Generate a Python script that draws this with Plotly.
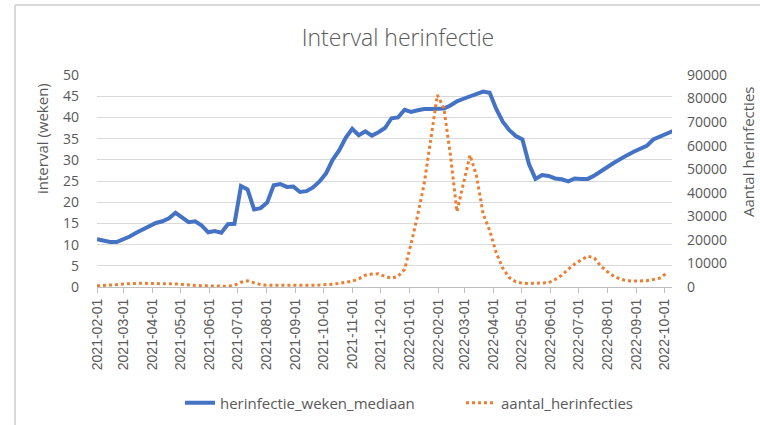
import pandas as pd
import plotly.graph_objects as go

# weekly dates (category values)
dates = pd.date_range("2021-02-01", periods=89, freq="7D")

herinfectie_weken_mediaan = [
    11.3, 10.9, 10.6, 10.6, 11.2, 11.9, 12.8, 13.5, 14.2, 15.1,
    15.5, 16.2, 17.5, 16.4, 15.3, 15.5, 14.5, 12.9, 13.2, 12.8,
    14.8, 14.9, 23.8, 23.0, 18.3, 18.6, 19.9, 24.0, 24.3, 23.6,
    23.7, 22.4, 22.6, 23.5, 24.9, 26.8, 30.0, 32.2, 35.2, 37.3,
    35.8, 36.7, 35.7, 36.5, 37.5, 39.8, 40.0, 41.8, 41.3, 41.7,
    42.0, 42.0, 42.1, 42.1, 42.8, 43.8, 44.4, 45.0, 45.6, 46.1,
    45.8, 42.0, 39.0, 37.0, 35.6, 34.8, 29.0, 25.5, 26.4, 26.2,
    25.6, 25.4, 24.9, 25.6, 25.5, 25.5, 26.3, 27.2, 28.3, 29.3,
    30.3, 31.1, 31.9, 32.7, 33.3, 34.8, 35.5, 36.1, 36.8,
]

aantal_herinfecties = [
    500, 600, 800, 1000, 1300, 1500, 1500, 1600, 1500, 1500,
    1500, 1400, 1300, 1100, 800, 600, 500, 500, 400, 400,
    300, 800, 2000, 2600, 1800, 1000, 700, 600, 700, 800,
    700, 600, 600, 700, 800, 900, 1200, 1500, 2000, 2500,
    3500, 5000, 5500, 5600, 4500, 3800, 4500, 7500, 18500, 30500,
    44000, 63000, 81500, 76000, 56000, 32000, 44000, 56000, 47000, 31000,
    24000, 14500, 8000, 4000, 2200, 1600, 1500, 1500, 1500, 1800,
    3200, 5000, 7500, 9800, 11500, 13100, 12300, 8800, 6500, 4500,
    3300, 2700, 2500, 2500, 2700, 3200, 3800, 5800, None,
]

left_ticks = list(range(0, 51, 5))
right_ticks = list(range(0, 90001, 10000))

TXT = "#595959"
FONT = "Open Sans"

# plot area in pixels
L, R, T, B = 97, 672, 75, 287
W, H = 760, 425
PW, PH = R - L, B - T


def px(x):
    return (x - L) / PW


def py(y):
    return (B - y) / PH


fig = go.Figure()
fig.add_trace(go.Scatter(
    x=dates, y=herinfectie_weken_mediaan, name="herinfectie_weken_mediaan",
    mode="lines", line=dict(color="#4472C4", width=4), yaxis="y", legend="legend",
))
fig.add_trace(go.Scatter(
    x=dates, y=aantal_herinfecties, name="aantal_herinfecties",
    mode="lines", line=dict(color="#ED7D31", width=3, dash="dot"), yaxis="y2",
    connectgaps=False, legend="legend2",
))

legend_common = dict(orientation="h", xanchor="left", yref="container", y=1 - 403 / H,
                     yanchor="middle", xref="container", font=dict(size=15, color=TXT),
                     bgcolor="rgba(0,0,0,0)", borderwidth=0)

fig.update_layout(
    width=W, height=H,
    margin=dict(l=L, r=W - R, t=T, b=H - B, autoexpand=False),
    paper_bgcolor="white", plot_bgcolor="white",
    font=dict(family=FONT, color=TXT, size=14),
    title=dict(text="Interval herinfectie", xref="container", x=398 / W, xanchor="center",
               yref="container", y=1 - 38 / H, yanchor="middle",
               font=dict(family=FONT, size=23, color=TXT, weight=300)),
    xaxis=dict(
        type="date", range=["2021-02-01", "2022-10-09"],
        tick0="2021-02-01", dtick="M1", tickformat="%Y-%m-%d", tickangle=-90,
        tickfont=dict(family="Liberation Sans", size=14, color=TXT),
        showgrid=False, showline=True, linecolor="#BFBFBF", linewidth=1,
        ticks="outside", ticklen=5, tickcolor="#BFBFBF", zeroline=False,
        automargin=False,
    ),
    yaxis=dict(
        range=[0, 50], tickvals=left_ticks, showgrid=True, gridcolor="#D9D9D9", gridwidth=1,
        zeroline=False, showline=False, ticks="", tickfont=dict(size=14, color=TXT),
        ticklabelstandoff=17, automargin=False,
    ),
    yaxis2=dict(
        range=[0, 90000], tickvals=right_ticks, tickformat="d", overlaying="y", side="right",
        showgrid=False, zeroline=False, showline=False, ticks="",
        tickfont=dict(size=14, color=TXT), ticklabelstandoff=14, automargin=False,
    ),
    legend=dict(legend_common, x=180 / W),
    legend2=dict(legend_common, x=461 / W),
    showlegend=True,
    annotations=[
        dict(text="interval (weken)", xref="paper", yref="paper", x=px(42), y=py(139),
             textangle=-90, showarrow=False, xanchor="center", yanchor="middle",
             font=dict(size=15, color=TXT)),
        dict(text="Aantal herinfecties", xref="paper", yref="paper", x=px(748), y=py(152),
             textangle=-90, showarrow=False, xanchor="center", yanchor="middle",
             font=dict(size=15, color=TXT)),
    ],
    shapes=[
        dict(type="line", xref="paper", yref="paper", x0=px(15), x1=px(15), y0=py(5), y1=py(430),
             line=dict(color="#D9D9D9", width=2)),
        dict(type="line", xref="paper", yref="paper", x0=px(15), x1=px(765), y0=py(5), y1=py(5),
             line=dict(color="#D9D9D9", width=2)),
    ],
)

fig.write_html(
    "out.html",
    config={"displayModeBar": False},
    post_script="document.body.style.margin='0';document.body.style.overflow='hidden';",
)
